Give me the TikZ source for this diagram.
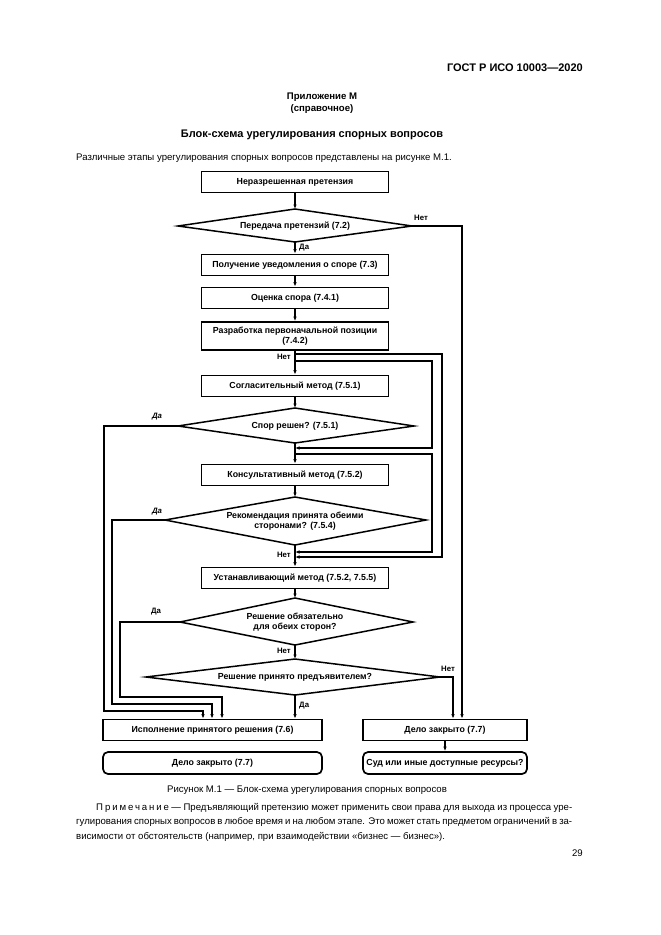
\documentclass[tikz,border=0pt]{standalone}
\usepackage{fontspec}
\setmainfont{Liberation Sans}
\usetikzlibrary{arrows.meta,calc}
\begin{document}
\begin{tikzpicture}[x=1pt,y=-1pt,
  box/.style={draw, line width=1.7pt, minimum width=187pt, minimum height=21pt, inner sep=1pt,
    font=\fontsize{8.8}{10}\selectfont\bfseries, align=center},
  wbox/.style={box, minimum width=219pt},
  rbox/.style={box, rounded corners=5pt},
  dtext/.style={inner sep=0pt, font=\fontsize{8.8}{10.5}\selectfont\bfseries, align=center},
  dia/.style={draw, line width=1.5pt},
  con/.style={line width=1.2pt},
  arr/.style={con, -{Latex[length=4.5pt,width=3.5pt]}},
  lbl/.style={inner sep=0pt, font=\fontsize{7.8}{8}\selectfont\bfseries},
  ilbl/.style={lbl, font=\fontsize{7.8}{8}\selectfont\bfseries\itshape},
  txt/.style={inner sep=0pt, font=\fontsize{9.6}{11}\selectfont}
]
\useasboundingbox (0,0) rectangle (661,935);

% page texts
\node[txt, anchor=east, font=\fontsize{11}{13}\selectfont\bfseries] (hdr) at (583,68) {ГОСТ Р ИСО 10003—2020};
\node[txt, font=\fontsize{9.6}{11}\selectfont\bfseries] (app) at (322,97) {Приложение М};
\node[txt, font=\fontsize{9.6}{11}\selectfont\bfseries] (app2) at (322,109) {(справочное)};
\node[txt, font=\fontsize{11}{13}\selectfont\bfseries] (ttl) at (312,135) {Блок-схема урегулирования спорных вопросов};
\node[txt, anchor=west] (intro) at (76,158) {Различные этапы урегулирования спорных вопросов представлены на рисунке М.1.};

% boxes
\node[box] (b1) at (295,182) {Неразрешенная претензия};
\node[box] (b3) at (295,265) {Получение уведомления о споре (7.3)};
\node[box] (b4) at (295,298) {Оценка спора (7.4.1)};
\node[box, minimum height=28pt] (b5) at (295,336) {Разработка первоначальной позиции\\(7.4.2)};
\node[box] (b6) at (295,386) {Согласительный метод (7.5.1)};
\node[box] (b7) at (295,475) {Консультативный метод (7.5.2)};
\node[box] (b8) at (295,578) {Устанавливающий метод (7.5.2, 7.5.5)};
\node[wbox] (b9) at (212.5,730) {Исполнение принятого решения (7.6)};
\node[box, minimum width=164pt] (b10) at (445,730) {Дело закрыто (7.7)};
\node[rbox, minimum width=219pt, minimum height=22pt] (r1) at (212.5,763) {Дело закрыто (7.7)};
\node[rbox, minimum width=164pt, minimum height=22pt] (r2) at (445,763) {Суд или иные доступные ресурсы?};

% diamonds
\coordinate (d1t) at (295,209); \coordinate (d1b) at (295,242);
\coordinate (d1l) at (178,226); \coordinate (d1r) at (412,226);
\draw[dia] (d1t) -- (d1r) -- (d1b) -- (d1l) -- cycle;
\node[dtext] (d1) at (295,226) {Передача претензий (7.2)};

\coordinate (d2t) at (295,408); \coordinate (d2b) at (295,443);
\coordinate (d2l) at (178,426); \coordinate (d2r) at (414,426);
\draw[dia] (d2t) -- (d2r) -- (d2b) -- (d2l) -- cycle;
\node[dtext] (d2) at (295,426) {Спор решен? (7.5.1)};

\coordinate (d3t) at (295,497); \coordinate (d3b) at (295,545);
\coordinate (d3l) at (165,520); \coordinate (d3r) at (426,520);
\draw[dia] (d3t) -- (d3r) -- (d3b) -- (d3l) -- cycle;
\node[dtext] (d3) at (295,521) {Рекомендация принята обеими\\сторонами? (7.5.4)};

\coordinate (d4t) at (295,598); \coordinate (d4b) at (295,645);
\coordinate (d4l) at (180,622); \coordinate (d4r) at (413,622);
\draw[dia] (d4t) -- (d4r) -- (d4b) -- (d4l) -- cycle;
\node[dtext] (d4) at (295,622) {Решение обязательно\\для обеих сторон?};

\coordinate (d5t) at (295,659); \coordinate (d5b) at (295,695);
\coordinate (d5l) at (146,677); \coordinate (d5r) at (440,677);
\draw[dia] (d5t) -- (d5r) -- (d5b) -- (d5l) -- cycle;
\node[dtext] (d5) at (295,677) {Решение принято предъявителем?};

% main connectors
\draw[arr] (b1) -- (d1t);
\draw[arr] (d1b) -- (b3);
\draw[arr] (b3) -- (b4);
\draw[arr] (b4) -- (b5);
\draw[arr] (b5) -- (b6);
\draw[arr] (b6) -- (d2t);
\draw[arr] (d2b) -- (b7);
\draw[arr] (b7) -- (d3t);
\draw[arr] (d3b) -- (b8);
\draw[arr] (b8) -- (d4t);
\draw[arr] (d4b) -- (d5t);
\draw[arr] (d5b) -- (b5 |- b9.north);
\draw[arr] (b10) -- (r2);

% right side
\coordinate (k1) at (462,226);
\draw[arr] (d1r) -- (k1) -- (k1 |- b10.north);
\coordinate (k2) at (453,677);
\draw[arr] (d5r) -- (k2) -- (k2 |- b10.north);

% right loops
\coordinate (l1s) at (295,354); \coordinate (l1a) at (442,354); \coordinate (l1b) at (442,557); \coordinate (l1e) at (295,557);
\draw[arr] (l1s) -- (l1a) -- (l1b) -- (l1e);
\coordinate (l2s) at (295,361); \coordinate (l2a) at (432,361); \coordinate (l2b) at (432,448); \coordinate (l2e) at (295,448);
\draw[arr] (l2s) -- (l2a) -- (l2b) -- (l2e);
\coordinate (l3s) at (295,454); \coordinate (l3a) at (432,454); \coordinate (l3b) at (432,552); \coordinate (l3e) at (295,552);
\draw[arr] (l3s) -- (l3a) -- (l3b) -- (l3e);

% left loops
\coordinate (a1) at (104,426); \coordinate (a1b) at (104,711); \coordinate (a1c) at (203,711);
\draw[arr] (d2l) -- (a1) -- (a1b) -- (a1c) -- (a1c |- b9.north);
\coordinate (a2) at (112,520); \coordinate (a2b) at (112,704); \coordinate (a2c) at (212,704);
\draw[arr] (d3l) -- (a2) -- (a2b) -- (a2c) -- (a2c |- b9.north);
\coordinate (a3) at (120,622); \coordinate (a3b) at (120,697); \coordinate (a3c) at (222,697);
\draw[arr] (d4l) -- (a3) -- (a3b) -- (a3c) -- (a3c |- b9.north);

% labels
\node[lbl, anchor=west] (n1) at (414,218) {Нет};
\node[lbl, anchor=west] (y1) at (299,248) {Да};
\node[lbl, anchor=east] (n2) at (291,357) {Нет};
\node[ilbl] (y2) at (157,417) {Да};
\node[ilbl] (y3) at (157,512) {Да};
\node[lbl, anchor=east] (n3) at (291,555) {Нет};
\node[lbl] (y4) at (156,612) {Да};
\node[lbl, anchor=east] (n4) at (291,651) {Нет};
\node[lbl, anchor=west] (n5) at (441,669) {Нет};
\node[lbl, anchor=west] (y5) at (299,706) {Да};

% caption and note
\node[txt] (cap) at (307,790) {Рисунок М.1 — Блок-схема урегулирования спорных вопросов};
\node[txt, anchor=west] (nt1) at (96,808) {\makebox[476pt][s]{{\addfontfeature{LetterSpace=20}Примечание} — Предъявляющий претензию может применить свои права для выхода из процесса уре-}};
\node[txt, anchor=west] (nt2) at (76,822) {\makebox[496pt][s]{гулирования спорных вопросов в любое время и на любом этапе. Это может стать предметом ограничений в за-}};
\node[txt, anchor=west] (nt3) at (76,837) {висимости от обстоятельств (например, при взаимодействии «бизнес — бизнес»).};
\node[txt, anchor=east] (pg) at (583,853) {29};
\end{tikzpicture}
\end{document}
